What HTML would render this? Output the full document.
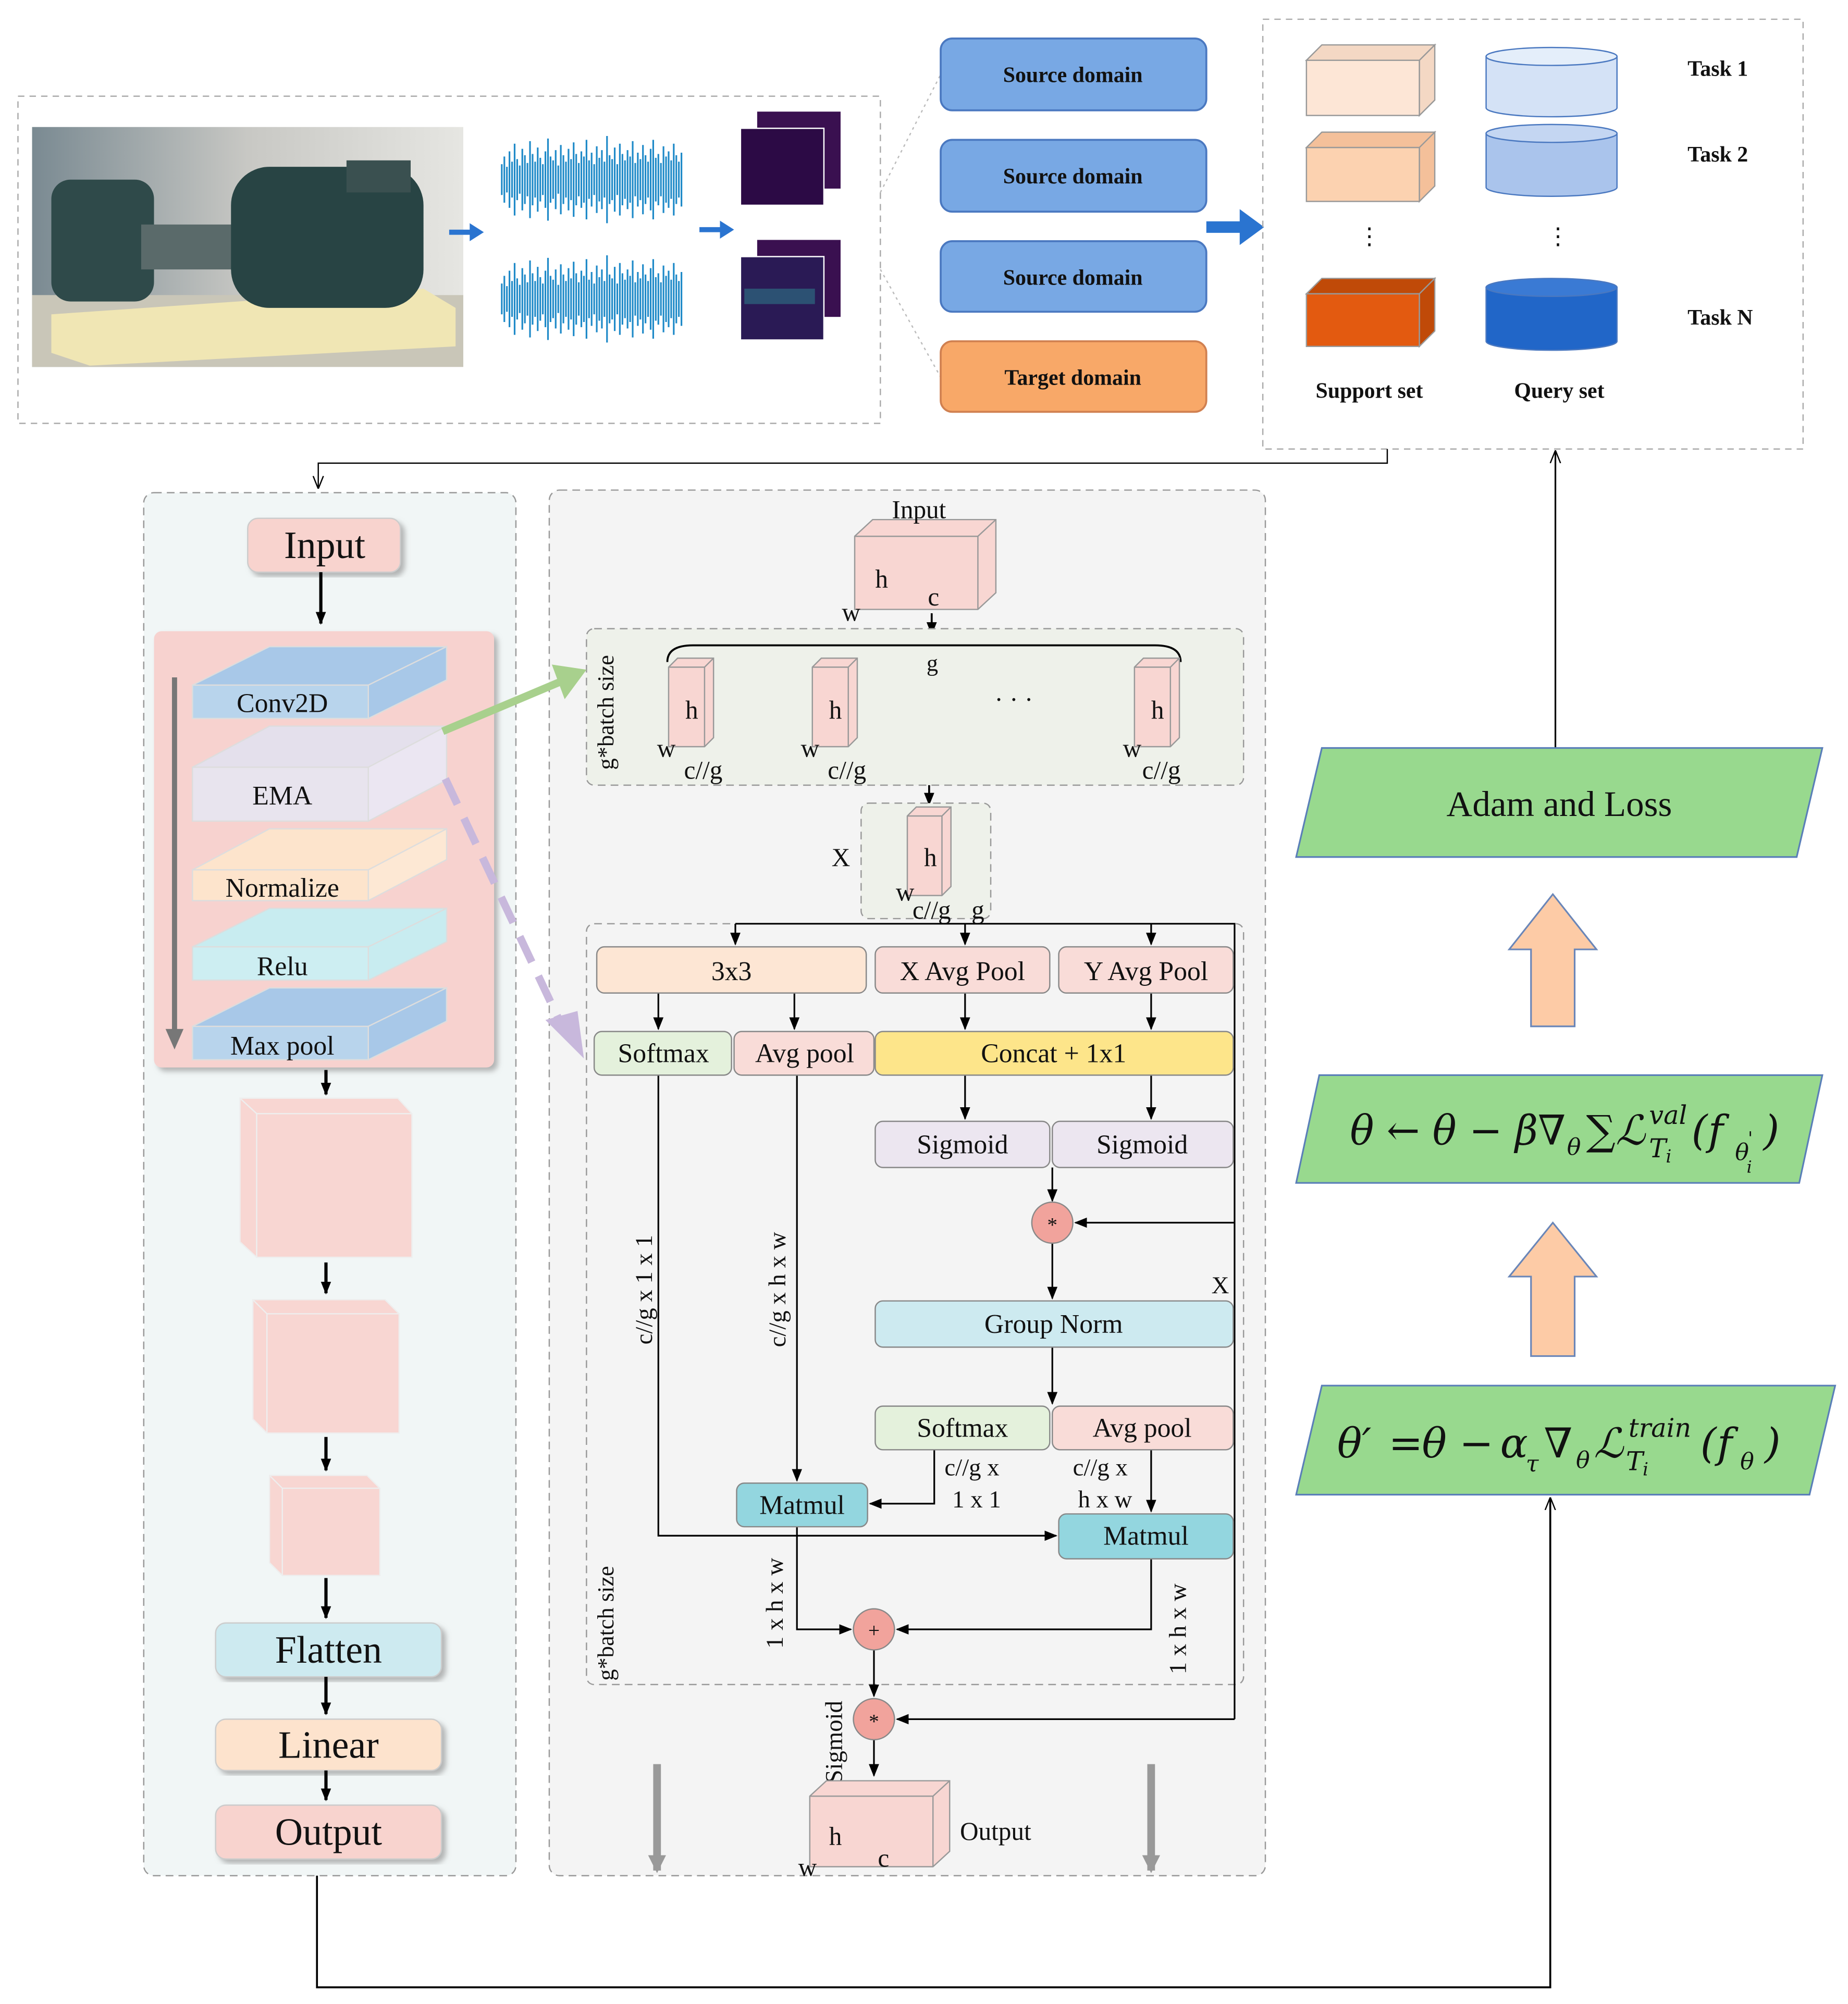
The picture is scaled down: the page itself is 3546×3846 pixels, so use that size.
<!DOCTYPE html>
<html><head><meta charset="utf-8"><style>
html,body{margin:0;padding:0;background:#fff}
svg{display:block}
text{font-family:"Liberation Serif",serif;fill:#111}
.m{font-family:"DejaVu Serif","Liberation Serif",serif;font-style:italic}
</style></head><body>
<svg width="3546" height="3846" viewBox="0 0 1440 1562" preserveAspectRatio="none" xmlns="http://www.w3.org/2000/svg">
<defs>
<marker id="ah" markerWidth="10" markerHeight="10" refX="9" refY="5" orient="auto" markerUnits="userSpaceOnUse"><path d="M0,1 L10,5 L0,9 z" fill="#000"/></marker>
<marker id="ao" markerWidth="10" markerHeight="10" refX="9" refY="5" orient="auto" markerUnits="userSpaceOnUse"><path d="M0,1 L10,5 L0,9" fill="none" stroke="#000"/></marker>
<marker id="ag" markerWidth="14" markerHeight="14" refX="12" refY="7" orient="auto" markerUnits="userSpaceOnUse"><path d="M0,0 L14,7 L0,14 z" fill="#999"/></marker>
<filter id="sh"><feDropShadow dx="3" dy="3" stdDeviation="2" flood-color="#888" flood-opacity="0.6"/></filter>
<linearGradient id="bg" x1="0" y1="0" x2="1" y2="0"><stop offset="0" stop-color="#7a8a92"/><stop offset="0.5" stop-color="#c8c8c4"/><stop offset="1" stop-color="#e6e6e2"/></linearGradient>
</defs>

<rect x="14" y="75" width="672" height="255" fill="none" stroke="#aaa" stroke-dasharray="5,4"/>
<rect x="25" y="99" width="336" height="187" fill="url(#bg)"/>
<rect x="25" y="230" width="336" height="56" fill="#c9c6b8"/>
<path d="M40,245 L330,225 L355,240 L355,270 L70,285 L40,275 z" fill="#f0e6b4"/>
<rect x="40" y="140" width="80" height="95" rx="15" fill="#2f4a4a"/>
<rect x="110" y="175" width="80" height="35" fill="#5a6a6a"/>
<rect x="180" y="130" width="150" height="110" rx="30" fill="#284444"/>
<rect x="270" y="125" width="50" height="25" fill="#3a5050"/>

<path d="M350,181 L368,181" stroke="#2a74d0" stroke-width="4"/><path d="M366,174 L377,181 L366,188z" fill="#2a74d0"/>
<path id="wv" stroke="#1f8ac8" stroke-width="1.3" d="M391,128v24M393,122v36M395,130v20M397,118v44M399,126v28M401,112v56M403,124v32M405,129v22M407,116v48M409,121v38M411,127v26M413,110v60M415,120v40M417,126v28M419,115v50M421,123v34M423,128v24M425,118v44M427,108v64M429,122v36M431,125v30M433,117v46M435,129v22M437,113v54M439,121v38M441,126v28M443,116v48M445,124v32M447,111v58M449,120v40M451,127v26M453,118v44M455,122v36M457,109v62M459,125v30M461,119v42M463,128v24M465,114v52M467,123v34M469,117v46M471,126v28M473,106v68M475,121v38M477,124v32M479,115v50M481,128v24M483,112v56M485,120v40M487,125v30M489,117v46M491,122v36M493,110v60M495,127v26M497,119v42M499,124v32M501,113v54M503,121v38M505,126v28M507,116v48M509,109v62M511,123v34M513,120v40M515,127v26M517,114v52M519,122v36M521,118v44M523,125v30M525,112v56M527,121v38M529,126v28M531,119v42"/>
<use href="#wv" transform="translate(0,93)"/>
<path d="M545,179 L563,179" stroke="#2a74d0" stroke-width="4"/><path d="M561,172 L572,179 L561,186z" fill="#2a74d0"/>
<rect x="590" y="87" width="65" height="60" fill="#3a1050"/><rect x="577" y="100" width="65" height="60" fill="#2c0a45" stroke="#fff" stroke-width="1"/>
<rect x="590" y="187" width="65" height="60" fill="#3a1050"/><rect x="577" y="200" width="65" height="65" fill="#2a1a55" stroke="#fff" stroke-width="1"/>
<rect x="580" y="225" width="55" height="12" fill="#2d6a80" opacity="0.7"/>

<path d="M686,150 L733,58 M686,210 L733,294" stroke="#bbb" stroke-dasharray="2,3"/>
<g stroke="#4a78c0" stroke-width="1.5">
<rect x="733" y="30" width="207" height="56" rx="9" fill="#78a8e4"/>
<rect x="733" y="109" width="207" height="56" rx="9" fill="#78a8e4"/>
<rect x="733" y="188" width="207" height="55" rx="9" fill="#78a8e4"/>
<rect x="733" y="266" width="207" height="55" rx="9" fill="#f8a868" stroke="#d08050"/>
</g>
<g font-size="17" font-weight="bold" text-anchor="middle">
<text x="836" y="64">Source domain</text><text x="836" y="143">Source domain</text><text x="836" y="222">Source domain</text><text x="836" y="300">Target domain</text>
</g>
<path d="M940,177 L968,177" stroke="#2a74d0" stroke-width="9"/><path d="M966,163 L985,177 L966,191z" fill="#2a74d0"/>

<rect x="984" y="15" width="421" height="335" fill="none" stroke="#aaa" stroke-dasharray="5,4"/>
<g stroke="#999">
<path d="M1018,47 L1030,35 L1118,35 L1106,47z M1106,47 L1118,35 L1118,78 L1106,90z" fill="#f4d8c4"/><rect x="1018" y="47" width="88" height="43" fill="#fde6d6"/>
<path d="M1018,115 L1030,103 L1118,103 L1106,115z M1106,115 L1118,103 L1118,145 L1106,157z" fill="#f4c09a"/><rect x="1018" y="115" width="88" height="42" fill="#fcd2b0"/>
<path d="M1018,229 L1030,217 L1118,217 L1106,229z M1106,229 L1118,217 L1118,258 L1106,270z" fill="#c04a08"/><rect x="1018" y="229" width="88" height="41" fill="#e35a10"/>
</g>
<g stroke="#4a78c0">
<path d="M1158,44 L1158,84 A51,7 0 0 0 1260,84 L1260,44z" fill="#d4e2f6"/><ellipse cx="1209" cy="44" rx="51" ry="7" fill="#e4eefa"/>
<path d="M1158,104 L1158,146 A51,7 0 0 0 1260,146 L1260,104z" fill="#aac4ec"/><ellipse cx="1209" cy="104" rx="51" ry="7" fill="#c4d6f2"/>
<path d="M1158,224 L1158,266 A51,7 0 0 0 1260,266 L1260,224z" fill="#2166c8"/><ellipse cx="1209" cy="224" rx="51" ry="7" fill="#3a7ad4"/>
</g>
<g font-size="17" font-weight="bold">
<text x="1315" y="59">Task 1</text><text x="1315" y="126">Task 2</text><text x="1315" y="253">Task N</text>
<text x="1067" y="310" text-anchor="middle">Support set</text><text x="1215" y="310" text-anchor="middle">Query set</text>
</g>
<text x="1067" y="190" font-size="18" text-anchor="middle">⋮</text><text x="1214" y="190" font-size="18" text-anchor="middle">⋮</text>

<path d="M1081,350 L1081,361 L248,361 L248,380" fill="none" stroke="#000" marker-end="url(#ao)"/>

<rect x="112" y="384" width="290" height="1078" rx="8" fill="#f1f6f6" stroke="#999" stroke-dasharray="6,4"/>
<rect x="193" y="404" width="119" height="42" rx="8" fill="#f8d3ce" stroke="#ccc" filter="url(#sh)"/>
<text x="253" y="435" font-size="30" text-anchor="middle">Input</text>
<path d="M250,446 L250,486" stroke="#000" stroke-width="2.5" marker-end="url(#ah)"/>
<rect x="120" y="492" width="265" height="340" rx="6" fill="#f7d2cf" filter="url(#sh)"/>
<path d="M136,528 L136,808" stroke="#777" stroke-width="4"/><path d="M129,802 L136,818 L143,802z" fill="#777"/>
<g stroke="#ddd">
<path d="M150,534 L210,504 L348,504 L287,534z" fill="#a8c8e8"/><path d="M287,534 L348,504 L348,530 L287,560z" fill="#a8c8e8"/><rect x="150" y="534" width="137" height="26" fill="#b8d4ec"/>
<path d="M150,598 L210,566 L348,566 L287,598z" fill="#e4e0ec"/><path d="M287,598 L348,566 L348,608 L287,640z" fill="#ebe6f2"/><rect x="150" y="598" width="137" height="42" fill="#e8e4ee"/>
<path d="M150,678 L210,646 L348,646 L287,678z" fill="#fde4cc"/><path d="M287,678 L348,646 L348,670 L287,702z" fill="#fde8d4"/><rect x="150" y="678" width="137" height="24" fill="#fde4cc"/>
<path d="M150,738 L210,708 L348,708 L287,738z" fill="#c8ecf0"/><path d="M287,738 L348,708 L348,734 L287,764z" fill="#c8ecf0"/><rect x="150" y="738" width="137" height="26" fill="#cdeef2"/>
<path d="M150,800 L210,770 L348,770 L287,800z" fill="#a8c8e8"/><path d="M287,800 L348,770 L348,796 L287,826z" fill="#a8c8e8"/><rect x="150" y="800" width="137" height="26" fill="#b8d4ec"/>
</g>
<g font-size="21" text-anchor="middle">
<text x="220" y="555">Conv2D</text><text x="220" y="627">EMA</text><text x="220" y="699">Normalize</text><text x="220" y="760">Relu</text><text x="220" y="822">Max pool</text>
</g>
<path d="M254,834 L254,853" stroke="#000" stroke-width="2.5" marker-end="url(#ah)"/>
<g fill="#f8d6d2" stroke="#eee">
<path d="M187,856 L310,856 L321,868 L321,980 L200,980 L187,968z"/><path d="M187,856 L200,868 L321,868 M200,868 L200,980" fill="none"/>
<path d="M197,1013 L300,1013 L311,1024 L311,1117 L208,1117 L197,1106z"/><path d="M197,1013 L208,1024 L311,1024 M208,1024 L208,1117" fill="none"/>
<path d="M210,1150 L286,1150 L296,1160 L296,1228 L220,1228 L210,1218z"/><path d="M210,1150 L220,1160 L296,1160 M220,1160 L220,1228" fill="none"/>
</g>
<path d="M254,984 L254,1008" stroke="#000" stroke-width="2.5" marker-end="url(#ah)"/>
<path d="M254,1120 L254,1146" stroke="#000" stroke-width="2.5" marker-end="url(#ah)"/>
<path d="M254,1230 L254,1261" stroke="#000" stroke-width="2.5" marker-end="url(#ah)"/>
<rect x="168" y="1265" width="176" height="42" rx="8" fill="#cdeaf0" stroke="#ccc" filter="url(#sh)"/>
<path d="M254,1307 L254,1336" stroke="#000" stroke-width="2.5" marker-end="url(#ah)"/>
<rect x="168" y="1340" width="176" height="40" rx="8" fill="#fde3cd" stroke="#ccc" filter="url(#sh)"/>
<path d="M254,1380 L254,1403" stroke="#000" stroke-width="2.5" marker-end="url(#ah)"/>
<rect x="168" y="1407" width="176" height="42" rx="8" fill="#f8d3ce" stroke="#ccc" filter="url(#sh)"/>
<g font-size="30" text-anchor="middle"><text x="256" y="1296">Flatten</text><text x="256" y="1370">Linear</text><text x="256" y="1438">Output</text></g>

<path d="M247,1462 L247,1549 L1208,1549 L1208,1168" fill="none" stroke="#000" stroke-width="1.5" marker-end="url(#ao)"/>

<rect x="428" y="382" width="558" height="1080" rx="8" fill="#f4f4f4" stroke="#999" stroke-dasharray="6,4"/>
<g fill="#f8d6d2" stroke="#999">
<path d="M666,418 L680,405 L776,405 L776,462 L762,475 L666,475z"/><path d="M666,418 L762,418 L776,405 M762,418 L762,475" fill="none"/>
</g>
<g font-size="20"><text x="695" y="404">Input</text><text x="682" y="458">h</text><text x="723" y="472">c</text><text x="656" y="484">w</text></g>
<path d="M726,478 L726,494" stroke="#000" stroke-width="1.5" marker-end="url(#ah)"/>
<rect x="457" y="490" width="512" height="122" rx="6" fill="#eef1ea" stroke="#999" stroke-dasharray="6,4"/>
<text transform="translate(478,600) rotate(-90)" font-size="18">g*batch size</text>
<path d="M520,516 Q520,503 540,503 L900,503 Q920,503 920,516" fill="none" stroke="#000" stroke-width="1.5"/>
<text x="722" y="523" font-size="18">g</text>
<g fill="#f8d6d2" stroke="#999">
<path d="M521,520 L528,513 L556,513 L556,575 L549,582 L521,582z"/><path d="M521,520 L549,520 L556,513 M549,520 L549,582" fill="none"/>
<path d="M633,520 L640,513 L668,513 L668,575 L661,582 L633,582z"/><path d="M633,520 L661,520 L668,513 M661,520 L661,582" fill="none"/>
<path d="M884,520 L891,513 L919,513 L919,575 L912,582 L884,582z"/><path d="M884,520 L912,520 L919,513 M912,520 L912,582" fill="none"/>
</g>
<g font-size="20">
<text x="534" y="560">h</text><text x="646" y="560">h</text><text x="897" y="560">h</text>
<text x="512" y="590">w</text><text x="624" y="590">w</text><text x="875" y="590">w</text>
<text x="533" y="607">c//g</text><text x="645" y="607">c//g</text><text x="890" y="607">c//g</text>
<text x="775" y="552">· · ·</text>
</g>
<path d="M724,612 L724,627" stroke="#000" stroke-width="1.5" marker-end="url(#ah)"/>
<rect x="671" y="626" width="101" height="90" rx="6" fill="#eef1ea" stroke="#999" stroke-dasharray="6,4"/>
<g fill="#f8d6d2" stroke="#999"><path d="M707,636 L714,629 L741,629 L741,691 L734,698 L707,698z"/><path d="M707,636 L734,636 L741,629 M734,636 L734,698" fill="none"/></g>
<g font-size="20"><text x="648" y="675">X</text><text x="720" y="675">h</text><text x="698" y="702">w</text><text x="711" y="716">c//g</text><text x="757" y="716">g</text></g>
<path d="M345,570 L440,530" stroke="#a8d08d" stroke-width="6"/><path d="M430,518 L457,522 L440,545z" fill="#a8d08d"/>
<path d="M347,607 L438,800" stroke="#c8b8dc" stroke-width="6" stroke-dasharray="22,12"/><path d="M425,795 L455,825 L450,788z" fill="#c8b8dc"/>

<rect x="457" y="720" width="512" height="593" rx="6" fill="none" stroke="#999" stroke-dasharray="6,4"/>
<text transform="translate(478,1310) rotate(-90)" font-size="18">g*batch size</text>
<g fill="none" stroke="#000" stroke-width="1.3">
<path d="M573,720 L962,720 L962,1340"/>
<path d="M573,720 L573,736" marker-end="url(#ah)"/><path d="M752,720 L752,736" marker-end="url(#ah)"/><path d="M897,720 L897,736" marker-end="url(#ah)"/>
<path d="M513,774 L513,802" marker-end="url(#ah)"/><path d="M619,774 L619,802" marker-end="url(#ah)"/>
<path d="M752,774 L752,802" marker-end="url(#ah)"/><path d="M897,774 L897,802" marker-end="url(#ah)"/>
<path d="M752,838 L752,872" marker-end="url(#ah)"/><path d="M897,838 L897,872" marker-end="url(#ah)"/>
<path d="M820,910 L820,936" marker-end="url(#ah)"/>
<path d="M962,953 L838,953" marker-end="url(#ah)"/>
<path d="M820,969 L820,1012" marker-end="url(#ah)"/>
<path d="M820,1050 L820,1094" marker-end="url(#ah)"/>
<path d="M728,1130 L728,1172 L678,1172" marker-end="url(#ah)"/>
<path d="M897,1130 L897,1178" marker-end="url(#ah)"/>
<path d="M513,838 L513,1197 L823,1197" marker-end="url(#ah)"/>
<path d="M621,838 L621,1154" marker-end="url(#ah)"/>
<path d="M621,1190 L621,1270 L663,1270" marker-end="url(#ah)"/>
<path d="M897,1215 L897,1270 L699,1270" marker-end="url(#ah)"/>
<path d="M681,1286 L681,1322" marker-end="url(#ah)"/>
<path d="M962,1340 L699,1340" marker-end="url(#ah)"/>
<path d="M681,1356 L681,1384" marker-end="url(#ah)"/>
</g>
<g stroke="#888" stroke-width="1">
<rect x="465" y="738" width="210" height="36" rx="6" fill="#fde6d4"/>
<rect x="682" y="738" width="136" height="36" rx="6" fill="#f9dcd8"/>
<rect x="825" y="738" width="136" height="36" rx="6" fill="#f9dcd8"/>
<rect x="463" y="804" width="107" height="34" rx="6" fill="#e4f1dc"/>
<rect x="572" y="804" width="109" height="34" rx="6" fill="#f9dcd8"/>
<rect x="682" y="804" width="279" height="34" rx="6" fill="#fde58a"/>
<rect x="682" y="874" width="136" height="36" rx="6" fill="#ece6f0"/>
<rect x="820" y="874" width="141" height="36" rx="6" fill="#ece6f0"/>
<rect x="682" y="1014" width="279" height="36" rx="6" fill="#cdeaf0"/>
<rect x="682" y="1096" width="136" height="34" rx="6" fill="#e4f1dc"/>
<rect x="820" y="1096" width="141" height="34" rx="6" fill="#f9dcd8"/>
<rect x="574" y="1156" width="102" height="34" rx="6" fill="#93d6df"/>
<rect x="825" y="1180" width="136" height="35" rx="6" fill="#93d6df"/>
<circle cx="820" cy="953" r="16" fill="#f1a39c"/>
<circle cx="681" cy="1270" r="16" fill="#f1a39c"/>
<circle cx="681" cy="1340" r="16" fill="#f1a39c"/>
</g>
<g font-size="21" text-anchor="middle">
<text x="570" y="764">3x3</text><text x="750" y="764">X Avg Pool</text><text x="893" y="764">Y Avg Pool</text>
<text x="517" y="828">Softmax</text><text x="627" y="828">Avg pool</text><text x="821" y="828">Concat + 1x1</text>
<text x="750" y="899">Sigmoid</text><text x="890" y="899">Sigmoid</text>
<text x="821" y="1039">Group Norm</text>
<text x="750" y="1120">Softmax</text><text x="890" y="1120">Avg pool</text>
<text x="625" y="1180">Matmul</text><text x="893" y="1204">Matmul</text>
<text x="820" y="960" font-size="16">*</text><text x="681" y="1276" font-size="16">+</text><text x="681" y="1347" font-size="16">*</text>
</g>
<g font-size="19">
<text x="944" y="1008">X</text>
<text x="736" y="1150">c//g x</text><text x="742" y="1175">1 x 1</text>
<text x="836" y="1150">c//g x</text><text x="840" y="1175">h x w</text>
<text transform="translate(508,1048) rotate(-90)">c//g x 1 x 1</text>
<text transform="translate(612,1050) rotate(-90)">c//g x h x w</text>
<text transform="translate(610,1285) rotate(-90)">1 x h x w</text>
<text transform="translate(924,1305) rotate(-90)">1 x h x w</text>
<text transform="translate(656,1390) rotate(-90)">Sigmoid</text>
</g>
<g fill="#f8d6d2" stroke="#999">
<path d="M631,1400 L644,1388 L740,1388 L740,1443 L727,1455 L631,1455z"/><path d="M631,1400 L727,1400 L740,1388 M727,1400 L727,1455" fill="none"/>
</g>
<g font-size="20"><text x="646" y="1438">h</text><text x="684" y="1455">c</text><text x="622" y="1462">w</text><text x="748" y="1434">Output</text></g>
<path d="M512,1375 L512,1458" stroke="#999" stroke-width="6" marker-end="url(#ag)"/>
<path d="M897,1375 L897,1458" stroke="#999" stroke-width="6" marker-end="url(#ag)"/>

<path d="M1212,583 L1212,352" stroke="#000" stroke-width="1.3" marker-end="url(#ao)"/>
<g fill="#98d98e" stroke="#5a7fb8" stroke-width="1.3">
<path d="M1030,583 L1420,583 L1400,668 L1010,668z"/>
<path d="M1028,838 L1420,838 L1402,922 L1010,922z"/>
<path d="M1030,1080 L1430,1080 L1410,1165 L1010,1165z"/>
</g>
<text x="1215" y="636" font-size="28" text-anchor="middle">Adam and Loss</text>
<g fill="#fdcba6" stroke="#6a86b8" stroke-width="1.3">
<path d="M1193,800 L1193,740 L1176,740 L1210,697 L1244,740 L1227,740 L1227,800z"/>
<path d="M1193,1057 L1193,995 L1176,995 L1210,953 L1244,995 L1227,995 L1227,1057z"/>
</g>
<!-- formula 1 -->
<g class="m">
<text class="m" x="1052" y="892" font-size="32" textLength="168" lengthAdjust="spacingAndGlyphs">θ ← θ − β∇</text>
<text class="m" x="1221" y="900" font-size="18">θ</text>
<text class="m" x="1236" y="892" font-size="32" font-style="normal">∑</text>
<text class="m" x="1259" y="892" font-size="32">ℒ</text>
<text class="m" x="1285" y="876" font-size="20">val</text>
<text class="m" x="1285" y="902" font-size="20">T</text><text class="m" x="1298" y="906" font-size="14">i</text>
<text class="m" x="1318" y="892" font-size="32">(</text>
<text class="m" x="1331" y="892" font-size="32">f</text>
<text class="m" x="1352" y="904" font-size="18">θ</text>
<text class="m" x="1362" y="892" font-size="14">'</text>
<text class="m" x="1361" y="914" font-size="13">i</text>
<text class="m" x="1374" y="892" font-size="32">)</text>
</g>
<!-- formula 2 -->
<g>
<text class="m" x="1042" y="1136" font-size="32">θ′</text>
<text class="m" x="1082" y="1136" font-size="32">=</text>
<text class="m" x="1108" y="1136" font-size="32">θ</text>
<text class="m" x="1137" y="1136" font-size="32">−</text>
<text class="m" x="1169" y="1136" font-size="32">α</text>
<text class="m" x="1189" y="1147" font-size="18">τ</text>
<text class="m" x="1203" y="1136" font-size="32">∇</text>
<text class="m" x="1228" y="1144" font-size="18">θ</text>
<text class="m" x="1242" y="1136" font-size="32">ℒ</text>
<text class="m" x="1269" y="1120" font-size="20">train</text>
<text class="m" x="1267" y="1146" font-size="20">T</text><text class="m" x="1280" y="1150" font-size="14">i</text>
<text class="m" x="1325" y="1136" font-size="32">(</text>
<text class="m" x="1338" y="1136" font-size="32">f</text>
<text class="m" x="1356" y="1145" font-size="18">θ</text>
<text class="m" x="1375" y="1136" font-size="32">)</text>
</g>
</svg>
</body></html>
